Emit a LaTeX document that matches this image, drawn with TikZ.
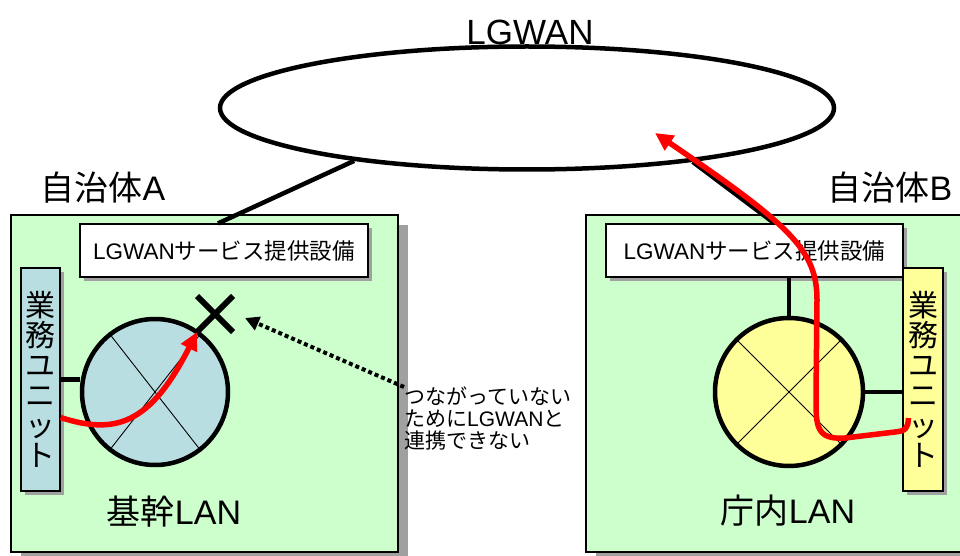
\documentclass[tikz,border=0pt]{standalone}
\usepackage{fontspec}
\setmainfont{Liberation Sans}
\newfontfamily\jp{Noto Sans CJK JP}
\usetikzlibrary{positioning,arrows.meta,shapes.geometric,shapes.misc,shadows}
\definecolor{lanbg}{HTML}{CCFFCC}
\definecolor{unitblue}{HTML}{B9DEE1}
\definecolor{unityellow}{HTML}{FFFF99}
\definecolor{shadegray}{HTML}{A0A0A0}

\begin{document}
\begin{tikzpicture}[
  x=1pt, y=-1pt,
  every node/.style={inner sep=0pt},
  area/.style={draw=black, line width=1.2pt, fill=lanbg, minimum height=337pt,
    drop shadow={shadow xshift=10pt, shadow yshift=-10pt, fill=shadegray, opacity=1}},
  svc/.style={draw=black, line width=1.2pt, fill=white, minimum height=53pt,
    font=\fontsize{22.5}{26}\selectfont,
    drop shadow={shadow xshift=4pt, shadow yshift=-4pt, fill=shadegray, opacity=1}},
  unit/.style={draw=black, line width=1.2pt, minimum width=39pt, minimum height=223pt,
    align=center, font=\jp\fontsize{30}{30}\selectfont,
    drop shadow={shadow xshift=4pt, shadow yshift=-4pt, fill=shadegray, opacity=1}},
  lan/.style={circle, draw=black, line width=4.5pt, minimum size=146pt},
  link/.style={black, line width=4.5pt},
  crossline/.style={black, line width=0.9pt},
  route/.style={red, line width=5.5pt, -{Triangle[length=18pt,width=17pt]}},
  nolink/.style={black, line width=4pt, dash pattern=on 4pt off 3pt,
    -{Triangle[length=14pt,width=14pt]}},
  big/.style={font=\fontsize{34}{36}\selectfont}
]
\useasboundingbox (0,0) rectangle (960,556);

% 左：自治体A
\begin{scope}
  \node[area, minimum width=387pt] (areaA) at (204.5,383.5) {};
  \node[svc, minimum width=288pt] (svcA) at (224,250.5) {LGWAN{\jp サービス提供設備}};
  \node[unit, fill=unitblue] (unitA) at (40.5,379.5) {業\\務\\ユ\\ニ\\ッ\\ト};
  \node[lan, fill=unitblue] (lanA) at (155,392) {};
  \draw[crossline] (lanA.128) -- (lanA.-52);
  \draw[crossline] (lanA.52) -- (lanA.232);
  \draw[link] (unitA.east) -- (unitA.east -| lanA.west);
  \node[big] (nameA) at (103,188) {{\jp 自治体}A};
  \node[big] (lanlabelA) at (174,512) {{\jp 基幹}LAN};
\end{scope}

% 右：自治体B
\begin{scope}
  \node[area, minimum width=390pt] (areaB) at (781,383.5) {};
  \node[svc, minimum width=297pt] (svcB) at (754.5,250.5) {LGWAN{\jp サービス提供設備}};
  \node[unit, fill=unityellow, minimum width=40pt] (unitB) at (923,379.5) {業\\務\\ユ\\ニ\\ッ\\ト};
  \node[lan, fill=unityellow, minimum size=148pt] (lanB) at (789,392) {};
  \draw[crossline] (lanB.135) -- (lanB.-45);
  \draw[crossline] (lanB.45) -- (lanB.225);
  \draw[link] (lanB.north) -- (lanB.north |- svcB.south);
  \draw[link] (lanB.east) -- (lanB.east -| unitB.west);
  \node[big] (nameB) at (890,188) {{\jp 自治体}B};
  \node[big] (lanlabelB) at (788,511) {{\jp 庁内}LAN};
\end{scope}

% LGWAN
\node[ellipse, draw=black, line width=4.5pt, minimum width=614pt, minimum height=123pt] (lgwan) at (527,108) {};
\node[font=\fontsize{35}{40}\selectfont] (lgwanlabel) at (530,32) {LGWAN};
\draw[link] ([xshift=-6pt]svcA.north) -- (lgwan.197);
\draw[link] ([xshift=20pt]svcB.north) -- (lgwan.-18);

% 経路
\node[cross out, draw=black, line width=6pt, minimum size=30pt] (ng) at (215,314) {};
\draw[route] ([yshift=-38pt]unitA.east) .. controls (115,435) and (150,425) .. (ng.south west);
\coordinate (lgwanin) at (655,133);
\draw[route] ([xshift=6pt,yshift=-38.5pt]unitB.west)
  .. controls (908,428) and (906,431) .. (895,432) -- (845,438)
  .. controls (815,440) and (816,425) .. (816,395) -- (817,300)
  .. controls (817,250) and (790,225) .. (lgwanin);

% 注記
\node[anchor=north west, align=left, font=\jp\fontsize{21}{22}\selectfont] (note) at (404,387)
  {つながっていない\\ために{\rmfamily LGWAN}と\\連携できない};
\draw[nolink] (note.north west) -- ([xshift=12pt,yshift=-4pt]ng.east);

\end{tikzpicture}
\end{document}
